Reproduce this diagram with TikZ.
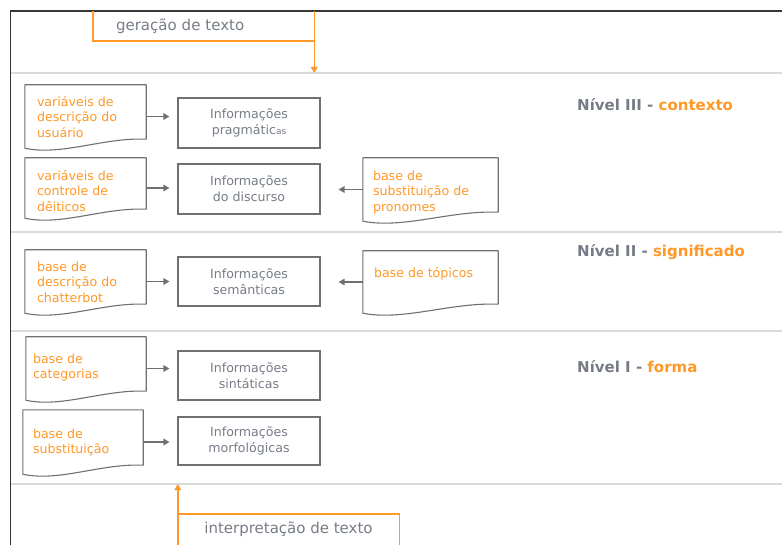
\documentclass[tikz,border=0pt]{standalone}
\usepackage{fontspec}
\setmainfont{DejaVu Sans}
\usetikzlibrary{arrows.meta,calc}

\definecolor{lvorange}{RGB}{255,152,38}
\definecolor{linegray}{RGB}{112,112,112}
\definecolor{txtgray}{RGB}{118,124,134}
\definecolor{sepgray}{RGB}{218,218,218}
\definecolor{framegray}{RGB}{55,55,55}

% outline of a "document" symbol around an empty named node: flat top, wavy bottom
\newcommand\docoutline[1]{%
  \draw[docline] (#1.south west)
    .. controls ($(#1.south west)!0.3!(#1.south east)+(0pt,-8pt)$)
           and ($(#1.south west)!0.65!(#1.south east)+(0pt,11pt)$)
    .. ([yshift=9pt]#1.south east) -- (#1.north east) -- (#1.north west) -- cycle;}
% left-aligned lines whose baseline is the first line
\newcommand\linesblock[1]{\begin{tabular}[t]{@{}l@{}}#1\end{tabular}}

\begin{document}
\begin{tikzpicture}[x=1pt,y=-1pt,
  docnode/.style={draw=none,inner sep=0pt},
  docline/.style={draw=linegray,line width=1.1pt,line join=round},
  doctext/.style={inner sep=0pt,anchor=base west,text=lvorange,
    font=\fontsize{12.6}{15.5}\selectfont},
  infobox/.style={draw=linegray,line width=1.1pt,minimum width=142pt,
    inner sep=0pt,align=center,text=txtgray,font=\fontsize{12.6}{16}\selectfont},
  feed/.style={draw=linegray,line width=1.6pt,-{Triangle[length=6pt,width=6.5pt]}},
  sepline/.style={draw=sepgray,line width=1.4pt},
  frameline/.style={draw=framegray,line width=1.8pt},
  flowline/.style={draw=lvorange,line width=1.4pt},
  flowarrow/.style={flowline,-{Triangle[length=6pt,width=6.5pt]}},
  flowbox/.style={draw=none,inner sep=0pt,text=txtgray,font=\fontsize{15}{18}\selectfont},
  levelname/.style={inner sep=0pt,anchor=base west,text=txtgray,
    font=\bfseries\fontsize{15}{18}\selectfont},
]
\useasboundingbox (0,0) rectangle (782,545);

% outer frame
\draw[frameline] (10.5,545) -- (10.5,11) -- (782,11);

% level separators
\coordinate (s1) at (11,73);
\coordinate (s2) at (11,232);
\coordinate (s3) at (11,331);
\coordinate (s4) at (11,484);
\foreach \s in {s1,s2,s3,s4} \draw[sepline] (\s) -- (\s -| 782,0);

% text generation (top) and interpretation (bottom)
\node[flowbox,minimum width=221pt,minimum height=30pt,align=left,text width=175pt]
  (gen) at (203.5,26) {geração de texto};
\draw[flowline] (gen.north west) -- (gen.south west) -- (gen.south east) -- (gen.north east);
\draw[flowarrow] (gen.south east) -- (gen.south east |- s1);

\node[flowbox,minimum width=221pt,minimum height=31pt]
  (interp) at (288.5,529.5) {interpretação de texto};
\draw[flowline] (interp.south west) -- (interp.north west) -- (interp.north east) -- (interp.south east);
\draw[flowarrow] (interp.north west) -- (interp.north west |- s4);

% level names
\node[levelname] (lv3) at (577,111) {Nível III - {\color{lvorange}contexto}};
\node[levelname] (lv2) at (577,257) {Nível II - {\color{lvorange}significado}};
\node[levelname] (lv1) at (577,373) {Nível I - {\color{lvorange}forma}};

% information boxes
\node[infobox,minimum height=50pt] (r1) at (249,123) {Informações\\pragmátic{\fontsize{9}{10}\selectfont as}};
\node[infobox,minimum height=50pt] (r2) at (249,189) {Informações\\do discurso};
\node[infobox,minimum height=49pt] (r3) at (249,281.5) {Informações\\semânticas};
\node[infobox,minimum height=49pt] (r4) at (249,375.5) {Informações\\sintáticas};
\node[infobox,minimum height=48pt] (r5) at (249,441) {Informações\\morfológicas};

% knowledge sources (documents)
\node[docnode,minimum width=121pt,minimum height=63pt] (d1) at (85.5,116.5) {};
\node[docnode,minimum width=121pt,minimum height=60pt] (d2) at (85.5,188) {};
\node[docnode,minimum width=135pt,minimum height=63pt] (d3) at (430.5,189.5) {};
\node[docnode,minimum width=121pt,minimum height=63pt] (d4) at (85.5,281.5) {};
\node[docnode,minimum width=135pt,minimum height=62pt] (d5) at (430.5,282) {};
\node[docnode,minimum width=120pt,minimum height=63pt] (d6) at (86,368.5) {};
\node[docnode,minimum width=120pt,minimum height=64pt] (d7) at (83,442) {};
\foreach \d in {d1,d2,d3,d4,d5,d6,d7} {\docoutline{\d}}

\node[doctext] (d1t) at ([shift={(12pt,-21.5pt)}]d1.north west)
  {\linesblock{variáveis de\\descrição do\\usuário}};
\node[doctext] (d2t) at ([shift={(12pt,-22.5pt)}]d2.north west)
  {\linesblock{variáveis de\\controle de\\dêiticos}};
\node[doctext] (d3t) at ([shift={(10pt,-22.5pt)}]d3.north west)
  {\linesblock{base de\\substituição de\\pronomes}};
\node[doctext] (d4t) at ([shift={(12pt,-21.5pt)}]d4.north west)
  {\linesblock{base de\\descrição do\\chatterbot}};
\node[doctext] (d5t) at ([shift={(11pt,-26.5pt)}]d5.north west)
  {base de tópicos};
\node[doctext] (d6t) at ([shift={(7pt,-26.5pt)}]d6.north west)
  {\linesblock{base de\\categorias}};
\node[doctext] (d7t) at ([shift={(10pt,-28.5pt)}]d7.north west)
  {\linesblock{base de\\substituição}};

% feeds into the information boxes
\draw[feed,shorten >=8pt] (d1.east) -- (d1.east -| r1.west);
\draw[feed,shorten >=8pt] (d2.east) -- (d2.east -| r2.west);
\draw[feed,shorten >=18pt] (d3.west) -- (d3.west -| r2.east);
\draw[feed,shorten >=8pt] (d4.east) -- (d4.east -| r3.west);
\draw[feed,shorten >=18pt] (d5.west) -- (d5.west -| r3.east);
\draw[feed,shorten >=8pt] (d6.east) -- (d6.east -| r4.west);
\draw[feed,shorten >=8pt] (d7.east) -- (d7.east -| r5.west);
\end{tikzpicture}
\end{document}
